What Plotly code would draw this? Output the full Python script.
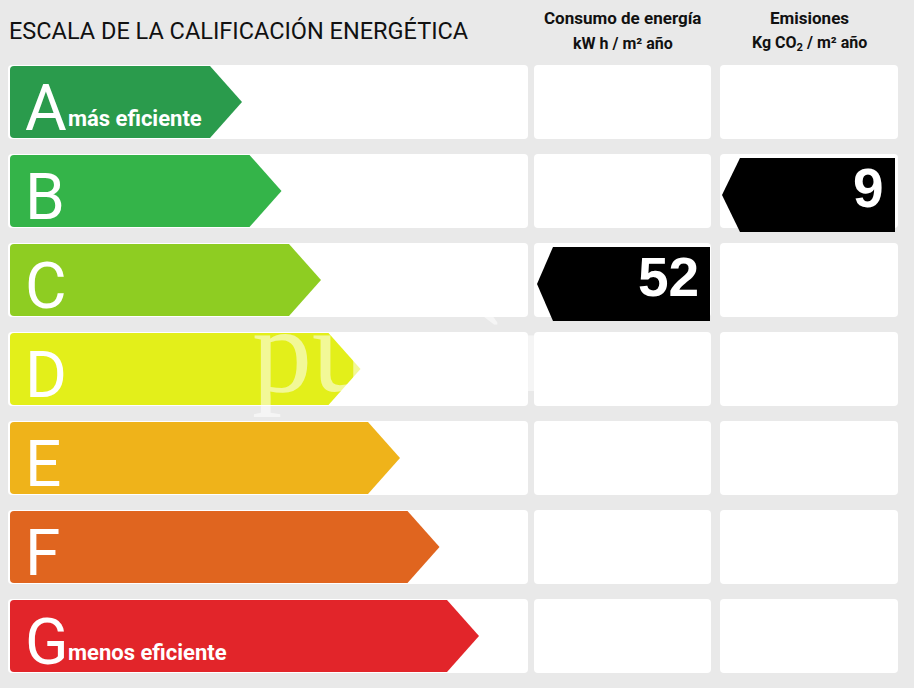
import plotly.graph_objects as go

# ---- data ----
ratings = ["A", "B", "C", "D", "E", "F", "G"]
rating_colors = ["#2a9b4c", "#34b449", "#8ecd22", "#e3ef1a", "#efb31a", "#e0651f", "#e2252a"]
rating_notes = {"A": "más eficiente", "G": "menos eficiente"}
title = "ESCALA DE LA CALIFICACIÓN ENERGÉTICA"
col_headers = [("Consumo de energía", "kW h / m² año"), ("Emisiones", "Kg CO<sub>2</sub> / m² año")]
consumo_rating = "C"
consumo_value = 52
emisiones_rating = "B"
emisiones_value = 9

# ---- layout geometry (pixels) ----
W, H = 914, 688
row_top0, pitch, row_h = 65, 89, 74
cols = [(8, 528), (534, 711), (720, 898)]
bg = "#e9e9e9"
narrow = "Liberation Sans Narrow, Roboto, sans-serif"

fig = go.Figure()
shapes = []
annotations = []


def rrect(x0, y0, x1, y1, r=4):
    return (f"M{x0+r},{y0} L{x1-r},{y0} Q{x1},{y0} {x1},{y0+r} L{x1},{y1-r} Q{x1},{y1} {x1-r},{y1} "
            f"L{x0+r},{y1} Q{x0},{y1} {x0},{y1-r} L{x0},{y0+r} Q{x0},{y0} {x0+r},{y0} Z")


for i, r in enumerate(ratings):
    y0 = row_top0 + i * pitch
    y1 = y0 + row_h
    ym = (y0 + y1) / 2
    for (cx0, cx1) in cols:
        shapes.append(dict(type="path", path=rrect(cx0, y0, cx1, y1), fillcolor="white",
                           line=dict(width=0), layer="below"))
    tip = 242 + 39.5 * i
    body = tip - 32
    ax0 = 10
    path = (f"M{ax0+4},{y0+1} L{body},{y0+1} L{tip},{ym} L{body},{y1-1} L{ax0+4},{y1-1} "
            f"Q{ax0},{y1-1} {ax0},{y1-5} L{ax0},{y0+5} Q{ax0},{y0+1} {ax0+4},{y0+1} Z")
    shapes.append(dict(type="path", path=path, fillcolor=rating_colors[i], line=dict(width=0), layer="below"))
    annotations.append(dict(x=23, y=ym + 6, text=r, showarrow=False, xanchor="left", yanchor="middle",
                            font=dict(family=narrow, size=64, color="white")))
    if r in rating_notes:
        annotations.append(dict(x=66, y=y1 - 21, text=f"<b>{rating_notes[r]}</b>", showarrow=False,
                                xanchor="left", yanchor="middle",
                                font=dict(family=narrow, size=22, color="white")))


def black_tag(rating, value, x_left, x_tip_in, x_right, y_off):
    i = ratings.index(rating)
    y0 = row_top0 + i * pitch + y_off
    y1 = y0 + row_h
    ym = (y0 + y1) / 2
    shapes.append(dict(type="path",
                       path=f"M{x_tip_in},{y0} L{x_right},{y0} L{x_right},{y1} L{x_tip_in},{y1} L{x_left},{ym} Z",
                       fillcolor="black", line=dict(width=0), layer="above"))
    annotations.append(dict(x=x_right - 9, y=y0 + 30, text=f"<b>{value}</b>", showarrow=False,
                            xanchor="right", yanchor="middle",
                            font=dict(family="Liberation Sans, Arial, sans-serif", size=55, color="white")))


black_tag(consumo_rating, consumo_value, 537, 553, 710, 4)
black_tag(emisiones_rating, emisiones_value, 722, 740, 895, 4)

# watermark
annotations.append(dict(x=415, y=350, text="pursòn", showarrow=False, xanchor="center", yanchor="middle",
                        font=dict(family="Liberation Serif, serif", size=120, color="rgba(255,255,255,0.55)")))

# title and headers
annotations.append(dict(x=7, y=31, text=title, showarrow=False, xanchor="left", yanchor="middle",
                        font=dict(family=narrow, size=23.5, color="#111111")))
for (cx0, cx1), (h1, h2) in zip(cols[1:], col_headers):
    xc = (cx0 + cx1) / 2
    annotations.append(dict(x=xc, y=18, text=f"<b>{h1}</b>", showarrow=False, xanchor="center",
                            yanchor="middle", font=dict(family=narrow, size=17, color="#111111")))
    annotations.append(dict(x=xc, y=43, text=f"<b>{h2}</b>", showarrow=False, xanchor="center",
                            yanchor="middle", font=dict(family=narrow, size=16, color="#111111")))

fig.update_layout(
    width=W, height=H, margin=dict(l=0, r=0, t=0, b=0),
    paper_bgcolor=bg, plot_bgcolor=bg,
    xaxis=dict(range=[0, W], visible=False, fixedrange=True),
    yaxis=dict(range=[H, 0], visible=False, fixedrange=True),
    shapes=shapes, annotations=annotations, showlegend=False,
)
fig.write_html("out.html", config={"displayModeBar": False},
               post_script="document.body.style.margin='0';document.body.style.overflow='hidden';")
